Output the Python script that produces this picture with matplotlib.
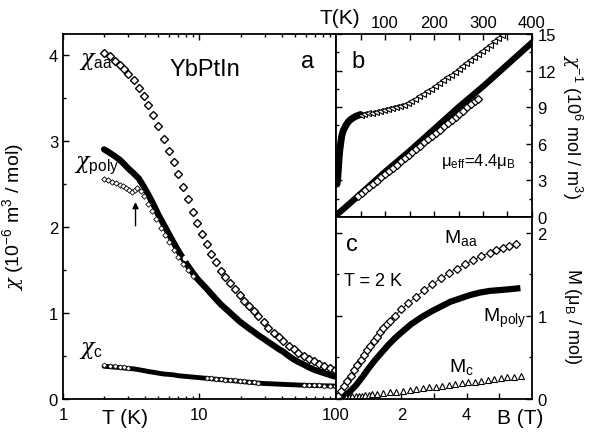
import matplotlib
matplotlib.use("Agg")
import matplotlib.pyplot as plt
from matplotlib.ticker import MultipleLocator, FixedLocator, NullFormatter

plt.rcParams["font.family"] = ["Liberation Sans", "DejaVu Sans"]
plt.rcParams["mathtext.fontset"] = "custom"
plt.rcParams["mathtext.rm"] = "Liberation Sans"
plt.rcParams["mathtext.it"] = "DejaVu Serif:italic"
plt.rcParams["mathtext.bf"] = "Liberation Sans:bold"

# panel a: chi(T), log T
temp = [2.0, 2.2, 2.4, 2.6, 2.8, 3.0, 3.3, 3.6, 3.9, 4.2, 4.6, 5.0, 5.5, 6.0,
        6.5, 7.0, 7.6, 8.2, 8.9, 9.6, 10.4, 11.3, 12.2, 13.2, 14.3, 15.5,
        16.8, 18.2, 19.7, 21.3, 23, 25, 27, 29.5, 32, 35, 38, 41, 45, 49, 53,
        58, 63, 69, 75, 82, 90, 98]
chi_aa = [4.02, 3.98, 3.93, 3.88, 3.83, 3.78, 3.70, 3.61, 3.52, 3.42, 3.30,
          3.17, 3.02, 2.88, 2.75, 2.61, 2.46, 2.32, 2.17, 2.04, 1.92, 1.80,
          1.69, 1.59, 1.49, 1.42, 1.35, 1.28, 1.21, 1.14, 1.08, 1.02, 0.96,
          0.89, 0.83, 0.77, 0.72, 0.67, 0.62, 0.58, 0.54, 0.50, 0.47, 0.44,
          0.41, 0.38, 0.36, 0.34]
chi_poly = [2.90, 2.86, 2.82, 2.78, 2.73, 2.68, 2.62, 2.56, 2.47, 2.38, 2.26,
            2.14, 2.02, 1.91, 1.81, 1.72, 1.63, 1.55, 1.47, 1.40, 1.34, 1.28,
            1.22, 1.16, 1.10, 1.05, 1.00, 0.95, 0.90, 0.86, 0.82, 0.78, 0.74,
            0.70, 0.66, 0.62, 0.58, 0.55, 0.50, 0.46, 0.43, 0.40, 0.37, 0.34,
            0.32, 0.30, 0.28, 0.26]
chi_c = [0.38, 0.375, 0.37, 0.365, 0.36, 0.355, 0.35, 0.34, 0.33, 0.32, 0.31,
         0.30, 0.29, 0.285, 0.28, 0.27, 0.265, 0.26, 0.255, 0.25, 0.245, 0.24,
         0.235, 0.23, 0.225, 0.22, 0.215, 0.21, 0.205, 0.20, 0.195, 0.19,
         0.185, 0.18, 0.178, 0.175, 0.172, 0.17, 0.167, 0.165, 0.162, 0.16,
         0.158, 0.156, 0.155, 0.153, 0.152, 0.15]
temp_kink = [2.0, 2.15, 2.3, 2.45, 2.6, 2.75, 2.9, 3.05, 3.2, 3.35, 3.5, 3.7,
             3.9, 4.2, 4.5, 4.8, 5.2, 5.6, 6.0, 6.5, 7.0, 7.6, 8.2, 8.9]
chi_kink = [2.55, 2.54, 2.52, 2.51, 2.49, 2.47, 2.45, 2.43, 2.40, 2.43, 2.45,
            2.42, 2.36, 2.27, 2.18, 2.09, 1.99, 1.90, 1.82, 1.73, 1.65, 1.57,
            1.50, 1.43]
temp_c_open = [2.0, 2.2, 2.4, 2.6, 2.8, 3.0, 11.3, 12.2, 13.2, 14.3, 15.5,
               16.8, 18.2, 19.7, 21.3, 23, 25, 27, 58, 63, 69, 75, 82, 90, 98]
chi_c_open = [0.39, 0.385, 0.38, 0.375, 0.37, 0.365, 0.245, 0.24, 0.235,
              0.23, 0.225, 0.22, 0.215, 0.21, 0.205, 0.20, 0.195, 0.19, 0.162,
              0.16, 0.158, 0.157, 0.156, 0.155, 0.154]

# panel b: inverse susceptibility vs T
tb_c_low = [2, 3, 4, 5, 6, 7, 8, 10, 12, 15, 20, 25, 30, 40, 50]
inv_c_low = [2.7, 3.0, 3.5, 4.1, 4.7, 5.2, 5.6, 6.2, 6.7, 7.1, 7.5, 7.8, 8.0,
             8.25, 8.4]
tb_c_high = [50, 58, 66, 74, 82, 90, 98, 106, 114, 122, 130, 138, 146, 154,
             162, 170, 178, 186, 194, 202, 210, 218, 226, 234, 242, 250, 258,
             266, 274, 282, 290, 298, 306, 314, 322, 330, 338]
inv_c_high = [8.40, 8.45, 8.50, 8.56, 8.62, 8.68, 8.75, 8.83, 8.91, 9.00, 9.10,
              9.22, 9.36, 9.52, 9.70, 9.89, 10.09, 10.30, 10.52, 10.75, 10.98,
              11.21, 11.44, 11.67, 11.90, 12.13, 12.37, 12.61, 12.85, 13.10,
              13.35, 13.61, 13.87, 14.13, 14.40, 14.67, 14.94]
tb_poly = [2, 25, 50, 100, 150, 200, 250, 300, 350, 400]
inv_poly = [0.2, 1.0, 1.9, 3.7, 5.4, 7.2, 9.0, 10.7, 12.5, 14.3]
tb_aa = [44, 52, 60, 68, 76, 84, 92, 100, 108, 116, 124, 132, 140, 148, 156,
         164, 172, 180, 188, 196, 204, 212, 220, 228, 236, 244, 252, 260, 268,
         276, 284, 290]
inv_aa = [1.68, 1.94, 2.20, 2.46, 2.72, 2.99, 3.25, 3.51, 3.77, 4.03, 4.29,
          4.55, 4.81, 5.07, 5.33, 5.59, 5.85, 6.12, 6.38, 6.64, 6.90, 7.16,
          7.42, 7.68, 7.94, 8.20, 8.46, 8.72, 8.98, 9.25, 9.51, 9.70]

# panel c: magnetization at 2 K
b_aa = [0.05, 0.15, 0.25, 0.35, 0.45, 0.55, 0.65, 0.75, 0.85, 0.95, 1.05,
        1.15, 1.25, 1.35, 1.45, 1.55, 1.65, 1.8, 2.0, 2.2, 2.45, 2.7, 2.95,
        3.2, 3.45, 3.7, 3.95, 4.2, 4.45, 4.7, 4.9, 5.1, 5.3, 5.5]
m_aa = [0.03, 0.10, 0.16, 0.22, 0.28, 0.35, 0.41, 0.47, 0.53, 0.59, 0.64,
        0.70, 0.75, 0.80, 0.85, 0.90, 0.94, 1.00, 1.08, 1.15, 1.23, 1.31,
        1.38, 1.45, 1.51, 1.57, 1.62, 1.67, 1.72, 1.76, 1.79, 1.82, 1.84, 1.86]
b_poly = [0, 0.2, 0.4, 0.6, 0.8, 1.0, 1.2, 1.4, 1.6, 1.8, 2.0, 2.3, 2.6, 2.9,
          3.2, 3.5, 3.8, 4.1, 4.4, 4.7, 5.0, 5.3, 5.55]
m_poly = [0.0, 0.03, 0.08, 0.16, 0.26, 0.37, 0.47, 0.56, 0.65, 0.73, 0.80,
          0.90, 0.98, 1.05, 1.11, 1.17, 1.21, 1.25, 1.28, 1.30, 1.31, 1.32,
          1.33]
b_c = [0.3, 0.4, 0.5, 0.6, 0.7, 0.8, 0.9, 1.0, 1.1, 1.25, 1.45, 1.65, 1.85,
       2.05, 2.25, 2.45, 2.65, 2.85, 3.05, 3.25, 3.45, 3.65, 3.85, 4.05, 4.25,
       4.45, 4.65, 4.85, 5.05, 5.25, 5.45, 5.65]
m_c = [0.02, 0.02, 0.03, 0.03, 0.04, 0.04, 0.05, 0.05, 0.06, 0.06, 0.07, 0.08,
       0.09, 0.10, 0.11, 0.12, 0.13, 0.14, 0.15, 0.16, 0.17, 0.18, 0.19, 0.20,
       0.21, 0.22, 0.23, 0.24, 0.25, 0.26, 0.27, 0.28]

FS = 12


def style(ax):
    for sp in ax.spines.values():
        sp.set_linewidth(1.3)
    ax.tick_params(which="both", direction="in", width=1, labelsize=FS)
    ax.tick_params(which="major", length=4)
    ax.tick_params(which="minor", length=2.5)


fig = plt.figure(figsize=(5.94, 4.35), dpi=100)
ax_a = fig.add_axes([0.106, 0.0805, 0.4597, 0.839])
ax_b = fig.add_axes([0.5657, 0.4989, 0.3299, 0.4206])
ax_c = fig.add_axes([0.5657, 0.0805, 0.3299, 0.4184])

# --- panel a ---
ax_a.set_xscale("log")
ax_a.plot(temp, chi_poly, color="black", lw=4.5, solid_capstyle="round")
ax_a.plot(temp, chi_c, color="black", lw=3.5, solid_capstyle="round")
ax_a.plot(temp_c_open, chi_c_open, ls="none", marker="D", ms=2.6, mfc="white",
          mec="black", mew=0.5)
ax_a.plot(temp_kink, chi_kink, ls="none", marker="D", ms=2.8, mfc="white",
          mec="black", mew=0.6)
ax_a.plot(temp, chi_aa, ls="none", marker="D", ms=4, mfc="white",
          mec="black", mew=1)
ax_a.plot([7.8], [1.64], ls="none", marker="o", ms=3, mfc="white", mec="white")
ax_a.annotate("", xy=(3.4, 2.32), xytext=(3.4, 1.98),
              arrowprops=dict(arrowstyle="-|>", color="black", lw=1,
                              mutation_scale=9))
ax_a.set_xlim(1, 100)
ax_a.set_ylim(0, 4.24)
ax_a.xaxis.set_major_locator(FixedLocator([1, 10, 100]))
ax_a.set_xticklabels(["1", "10", "100"])
ax_a.xaxis.set_minor_formatter(NullFormatter())
ax_a.yaxis.set_major_locator(MultipleLocator(1))
ax_a.yaxis.set_minor_locator(MultipleLocator(0.5))
style(ax_a)
ax_a.tick_params(which="both", top=True, right=False)
ax_a.tick_params(axis="x", pad=6)
ax_a.set_ylabel("$\\chi$ (10$^{-6}$ m$^{3}$ / mol)", fontsize=14)
ax_a.yaxis.set_label_coords(-0.135, 0.5)
ax_a.text(0.227, -0.05, "T (K)", transform=ax_a.transAxes, fontsize=15,
          ha="center", va="center")
ax_a.text(1.3, 3.93, "$\\chi_{\\rm aa}$", fontsize=16, ha="left", va="center")
ax_a.text(1.2, 2.72, "$\\chi_{\\rm poly}$", fontsize=16, ha="left",
          va="center")
ax_a.text(1.3, 0.58, "$\\chi_{\\rm c}$", fontsize=16, ha="left", va="center")
ax_a.text(11, 3.83, "YbPtIn", fontsize=17, ha="center", va="center")
ax_a.text(62, 3.93, "a", fontsize=17, ha="center", va="center")

# --- panel b ---
ax_b.plot(tb_poly, inv_poly, color="black", lw=4.5)
ax_b.plot(tb_c_low, inv_c_low, color="black", lw=5, solid_capstyle="round")
ax_b.plot(tb_c_high, inv_c_high, ls="none", marker="<", ms=4, mfc="white",
          mec="black", mew=0.8)
ax_b.plot(tb_aa, inv_aa, ls="none", marker="D", ms=3.6, mfc="white",
          mec="black", mew=0.9)
ax_b.set_xlim(0, 400)
ax_b.set_ylim(0, 15)
ax_b.xaxis.set_major_locator(FixedLocator([100, 200, 300, 400]))
ax_b.xaxis.set_minor_locator(FixedLocator([50, 150, 250, 350]))
ax_b.yaxis.set_major_locator(MultipleLocator(3))
ax_b.yaxis.set_minor_locator(MultipleLocator(1.5))
style(ax_b)
ax_b.tick_params(which="both", top=True, bottom=True, left=True, right=True,
                 labeltop=True, labelbottom=False, labelleft=False,
                 labelright=True)
ax_b.tick_params(axis="x", which="minor", length=4)
ax_b.tick_params(axis="y", pad=4)
ax_b.tick_params(axis="x", pad=3)
ax_b.yaxis.set_label_position("right")
ax_b.set_ylabel("$\\chi^{-1}$ (10$^{6}$ mol / m$^{3}$)", fontsize=13,
                rotation=270, va="center")
ax_b.yaxis.set_label_coords(1.205, 0.5)
ax_b.text(0.02, 1.088, "T(K)", transform=ax_b.transAxes, fontsize=15,
          ha="center", va="center")
ax_b.text(45, 12.8, "b", fontsize=17, ha="center", va="center")
ax_b.text(215, 4.6, "μ$_{\\rm eff}$=4.4μ$_{\\rm B}$", fontsize=12,
          ha="left", va="center")

# --- panel c ---
ax_c.plot(b_poly, m_poly, color="black", lw=4.5)
ax_c.plot(b_aa, m_aa, color="black", lw=0.6, marker="D", ms=4, mfc="white",
          mec="black", mew=0.9)
ax_c.plot(b_c, m_c, ls="none", marker="^", ms=5, mfc="white", mec="black",
          mew=0.8)
ax_c.set_xlim(0, 6)
ax_c.set_ylim(0, 2.19)
ax_c.xaxis.set_major_locator(FixedLocator([2, 4]))
ax_c.xaxis.set_minor_locator(FixedLocator([1, 3, 5]))
ax_c.yaxis.set_major_locator(MultipleLocator(1))
ax_c.yaxis.set_minor_locator(MultipleLocator(0.5))
style(ax_c)
ax_c.tick_params(which="both", top=False, bottom=True, left=True, right=True,
                 labelleft=False, labelright=True)
ax_c.tick_params(axis="x", which="minor", length=4)
ax_c.tick_params(axis="x", pad=6)
ax_c.tick_params(axis="y", pad=4)
ax_c.yaxis.set_label_position("right")
ax_c.set_ylabel("M (μ$_{\\rm B}$ / mol)", fontsize=13, rotation=270,
                va="center")
ax_c.yaxis.set_label_coords(1.205, 0.46)
ax_c.text(0.94, -0.1, "B (T)", transform=ax_c.transAxes, fontsize=15,
          ha="center", va="center")
ax_c.text(0.5, 1.87, "c", fontsize=17, ha="center", va="center")
ax_c.text(0.25, 1.42, "T = 2 K", fontsize=13, ha="left", va="center")
ax_c.text(3.3, 1.95, "M$_{\\rm aa}$", fontsize=14, ha="left", va="center")
ax_c.text(4.5, 0.98, "M$_{\\rm poly}$", fontsize=14, ha="left", va="center")
ax_c.text(3.45, 0.4, "M$_{\\rm c}$", fontsize=14, ha="left", va="center")

fig.savefig("out.png", dpi=100)
